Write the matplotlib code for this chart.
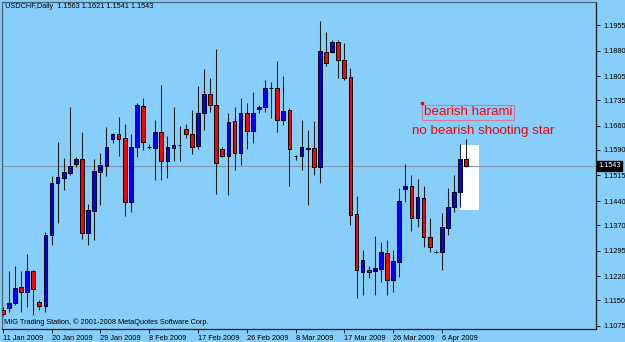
import matplotlib
matplotlib.use("Agg")
from matplotlib import pyplot as plt
from matplotlib.patches import Rectangle
import numpy as np

# Daily USDCHF bars (Sunday bars included)
opens = [1.1122, 1.1128, 1.1142, 1.1189, 1.1174, 1.1236, 1.1145, 1.1133, 1.1341, 1.1493,
         1.1508, 1.1522, 1.1549, 1.1563, 1.1347, 1.1411, 1.1525, 1.1543, 1.1622, 1.1636,
         1.1625, 1.1437, 1.1598, 1.1718, 1.1597, 1.1595, 1.1642, 1.1557, 1.1595, 1.1603,
         1.1651, 1.1636, 1.1601, 1.1698, 1.1753, 1.1721, 1.1592, 1.1572, 1.1674, 1.1581,
         1.1698, 1.1645, 1.1709, 1.1715, 1.1770, 1.1771, 1.1677, 1.1706, 1.1573, 1.1572,
         1.1595, 1.1595, 1.1540, 1.1876, 1.1876, 1.1905, 1.1853, 1.1803, 1.1402, 1.1233,
         1.1239, 1.1236, 1.1242, 1.1288, 1.1209, 1.1262, 1.1475, 1.1484, 1.1391, 1.1449,
         1.1335, 1.1292, 1.1291, 1.1361, 1.1423, 1.1467, 1.1563]
highs = [1.1130, 1.1236, 1.1250, 1.1236, 1.1285, 1.1238, 1.1151, 1.1350, 1.1513, 1.1613,
         1.1566, 1.1715, 1.1569, 1.1642, 1.1432, 1.1563, 1.1581, 1.1657, 1.1639, 1.1686,
         1.1666, 1.1636, 1.1727, 1.1742, 1.1607, 1.1677, 1.1780, 1.1630, 1.1715, 1.1660,
         1.1666, 1.1706, 1.1777, 1.1826, 1.1800, 1.1885, 1.1598, 1.1698, 1.1715, 1.1742,
         1.1727, 1.1759, 1.1721, 1.1794, 1.1788, 1.1850, 1.1806, 1.1712, 1.1575, 1.1677,
         1.1648, 1.1674, 1.1967, 1.1935, 1.1911, 1.1911, 1.1902, 1.1829, 1.1455, 1.1297,
         1.1250, 1.1338, 1.1320, 1.1326, 1.1297, 1.1478, 1.1549, 1.1516, 1.1505, 1.1484,
         1.1391, 1.1297, 1.1405, 1.1478, 1.1516, 1.1607, 1.1621]
lows = [1.1104, 1.1116, 1.1136, 1.1116, 1.1130, 1.1107, 1.1122, 1.1116, 1.1312, 1.1376,
        1.1473, 1.1516, 1.1540, 1.1329, 1.1312, 1.1326, 1.1429, 1.1513, 1.1610, 1.1572,
        1.1397, 1.1408, 1.1569, 1.1590, 1.1592, 1.1502, 1.1502, 1.1508, 1.1557, 1.1557,
        1.1625, 1.1578, 1.1592, 1.1648, 1.1701, 1.1461, 1.1569, 1.1458, 1.1531, 1.1546,
        1.1592, 1.1610, 1.1698, 1.1701, 1.1683, 1.1642, 1.1663, 1.1484, 1.1560, 1.1531,
        1.1429, 1.1516, 1.1493, 1.1835, 1.1873, 1.1800, 1.1794, 1.1370, 1.1157, 1.1166,
        1.1215, 1.1166, 1.1204, 1.1166, 1.1174, 1.1218, 1.1437, 1.1353, 1.1364, 1.1306,
        1.1291, 1.1288, 1.1239, 1.1341, 1.1408, 1.1423, 1.1541]
closes = [1.1110, 1.1142, 1.1186, 1.1174, 1.1236, 1.1183, 1.1133, 1.1341, 1.1493, 1.1511,
          1.1525, 1.1543, 1.1563, 1.1347, 1.1414, 1.1528, 1.1546, 1.1598, 1.1636, 1.1622,
          1.1437, 1.1598, 1.1721, 1.1613, 1.1599, 1.1642, 1.1557, 1.1598, 1.1604, 1.1605,
          1.1636, 1.1598, 1.1698, 1.1753, 1.1721, 1.1551, 1.1572, 1.1671, 1.1581, 1.1698,
          1.1645, 1.1698, 1.1715, 1.1771, 1.1772, 1.1677, 1.1704, 1.1592, 1.1571, 1.1598,
          1.1592, 1.1540, 1.1879, 1.1844, 1.1905, 1.1853, 1.1800, 1.1399, 1.1239, 1.1268,
          1.1233, 1.1244, 1.1291, 1.1209, 1.1265, 1.1440, 1.1484, 1.1391, 1.1452, 1.1335,
          1.1306, 1.1291, 1.1364, 1.1423, 1.1467, 1.1563, 1.1543]

date_labels = ['11 Jan 2009', '20 Jan 2009', '29 Jan 2009', '8 Feb 2009', '17 Feb 2009',
               '26 Feb 2009', '8 Mar 2009', '17 Mar 2009', '26 Mar 2009', '6 Apr 2009']
price_ticks = [1.1955, 1.1880, 1.1805, 1.1735, 1.1660, 1.1590, 1.1515,
               1.1440, 1.1370, 1.1295, 1.1220, 1.1150, 1.1075]
last_price = 1.1543

bg = '#87CEFA'
small = dict(family='Liberation Sans', size=5.3)

fig = plt.figure(figsize=(6.25, 3.42), dpi=100, facecolor=bg)
ax = fig.add_axes([2/625, 13/342, 594/625, 327/342], facecolor=bg)

o = np.array(opens)
h = np.array(highs)
l = np.array(lows)
c = np.array(closes)
x = np.arange(len(o))

# highlight box behind the last two bars
ax.add_patch(Rectangle((75.0, 1.1413), 3.0, 0.0192, facecolor='white',
                       edgecolor='none', zorder=1))

# current price line
ax.axhline(last_price, color='#8497a8', lw=0.8, zorder=1.5)

# candles
ax.vlines(x, l, h, color='#1a1a1a', lw=0.75, zorder=2)
colors = np.where(c >= o, '#0000ff', '#ff0000')
heights = np.maximum(np.abs(c - o), 0.00003)
ax.bar(x, heights, bottom=np.minimum(o, c), width=0.6, color=colors,
       edgecolor='black', linewidth=0.7, zorder=3)

ax.set_xlim(-0.115, 97.26)
ax.set_ylim(1.10661, 1.20223)

# price axis on the right
ax.yaxis.tick_right()
ax.set_yticks(price_ticks)
ax.set_yticklabels(['%.4f' % v for v in price_ticks], **small)
ax.tick_params(axis='y', length=3, width=0.6, pad=2, colors='black')

# date axis
ax.set_xticks(np.arange(0, len(o), 8))
ax.set_xticklabels(date_labels, **small, ha='left')
ax.tick_params(axis='x', length=3, width=0.6, pad=1.5, colors='black')

for side in ['left', 'top']:
    ax.spines[side].set_color('#4a6478')
    ax.spines[side].set_linewidth(0.9)
for side in ['right', 'bottom']:
    ax.spines[side].set_color('#1a1a1a')
    ax.spines[side].set_linewidth(0.9)

# last price marker on the axis
ax.text(1.004, last_price, '%.4f' % last_price, transform=ax.get_yaxis_transform(),
        color='white', va='center', ha='left', **small,
        bbox=dict(boxstyle='square,pad=0.15', facecolor='black', edgecolor='black'))

# chart notes
ax.text(76.28, 1.1700, 'bearish harami', color='#ff0000', ha='center', va='center',
        family='Liberation Sans', size=9.6,
        bbox=dict(boxstyle='square,pad=0.1', facecolor='none', edgecolor='#d4789a', lw=0.8))
ax.plot([68.74], [1.1727], marker='s', ms=1.5, color='#ff0000', zorder=4)
ax.text(78.74, 1.1645, 'no bearish shooting star', color='#ff0000', ha='center',
        va='center', family='Liberation Sans', size=9.6)

fig.text(5/625, 1 - 7/342, 'USDCHF,Daily  1.1563 1.1621 1.1541 1.1543',
         va='center', ha='left', **small)
fig.text(4/625, 1 - 322/342, 'MIG Trading Station, \u00a9 2001-2008 MetaQuotes Software Corp.',
         va='center', ha='left', **small)

plt.savefig('out.png', dpi=100, facecolor=bg)
